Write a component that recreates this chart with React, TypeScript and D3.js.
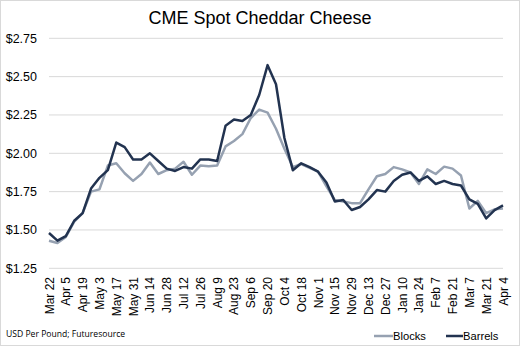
import React from "react";
import * as d3 from "d3";

const tickLabels = ["Mar 22","Apr 5","Apr 19","May 3","May 17","May 31","Jun 14","Jun 28","Jul 12","Jul 26","Aug 9","Aug 23","Sep 6","Sep 20","Oct 4","Oct 18","Nov 1","Nov 15","Nov 29","Dec 13","Dec 27","Jan 10","Jan 24","Feb 7","Feb 21","Mar 7","Mar 21","Apr 4"];

const blocks = [1.43,1.415,1.455,1.555,1.61,1.75,1.765,1.92,1.935,1.87,1.82,1.865,1.94,1.865,1.89,1.9,1.945,1.86,1.92,1.915,1.92,2.045,2.08,2.125,2.23,2.285,2.265,2.16,2.03,1.91,1.93,1.905,1.88,1.785,1.695,1.685,1.675,1.675,1.765,1.85,1.865,1.91,1.895,1.875,1.8,1.895,1.865,1.913,1.9,1.855,1.64,1.69,1.61,1.635,1.64];

const barrels = [1.48,1.43,1.46,1.56,1.61,1.77,1.84,1.89,2.07,2.04,1.96,1.96,2.0,1.95,1.9,1.885,1.91,1.9,1.96,1.96,1.95,2.18,2.22,2.21,2.25,2.38,2.575,2.45,2.1,1.89,1.935,1.91,1.88,1.81,1.685,1.695,1.63,1.65,1.7,1.76,1.75,1.82,1.86,1.875,1.82,1.85,1.8,1.82,1.8,1.79,1.7,1.67,1.575,1.63,1.66];

const yTicks = [1.25,1.5,1.75,2.0,2.25,2.5,2.75];

const W = 520, H = 346;
const x0 = 49, x1 = 503, yTop = 38.3, yBot = 268.3;

export default function App() {
  const n = blocks.length;
  const x = d3.scaleLinear().domain([0, n - 1]).range([x0, x1]);
  const y = d3.scaleLinear().domain([1.25, 2.75]).range([yBot, yTop]);
  const line = d3.line<number>().x((_, i) => x(i)).y((d) => y(d));
  const fmt = (v: number) => "$" + d3.format(".2f")(v);
  const font = "'Liberation Sans', Arial, sans-serif";
  return (
    <svg width={W} height={H} style={{ position: "absolute", left: 0, top: 0 }}>
      <rect x={0.5} y={0.5} width={W - 1} height={H - 1} fill="#fff" stroke="#d9d9d9" />
      <text x={260} y={24} textAnchor="middle" fontFamily={font} fontSize={18} fill="#000">CME Spot Cheddar Cheese</text>
      {yTicks.map((t) => (
        <g key={t}>
          <line x1={x0} x2={x1} y1={y(t)} y2={y(t)} stroke="#d9d9d9" strokeWidth={1} />
          <text x={37} y={y(t)} dy="0.35em" textAnchor="end" fontFamily={font} fontSize={12.5} fill="#000">{fmt(t)}</text>
        </g>
      ))}
      {tickLabels.map((l, k) => (
        <text key={l} transform={`translate(${x(k * 2) + 4.5},277) rotate(-90)`} textAnchor="end" fontFamily={font} fontSize={12} fill="#000">{l}</text>
      ))}
      <path d={line(blocks) || ""} fill="none" stroke="#96a1b1" strokeWidth={2.5} strokeLinejoin="round" />
      <path d={line(barrels) || ""} fill="none" stroke="#223350" strokeWidth={2.5} strokeLinejoin="round" />
      <text x={6} y={337} fontFamily="'Open Sans', sans-serif" fontSize={8.6} fill="#000">USD Per Pound; Futuresource</text>
      <line x1={374} x2={393} y1={336} y2={336} stroke="#96a1b1" strokeWidth={2.5} />
      <text x={393} y={336} dy="0.35em" fontFamily={font} fontSize={11.2} fill="#000">Blocks</text>
      <line x1={446} x2={463} y1={336} y2={336} stroke="#223350" strokeWidth={2.5} />
      <text x={463} y={336} dy="0.35em" fontFamily={font} fontSize={11.2} fill="#000">Barrels</text>
    </svg>
  );
}
